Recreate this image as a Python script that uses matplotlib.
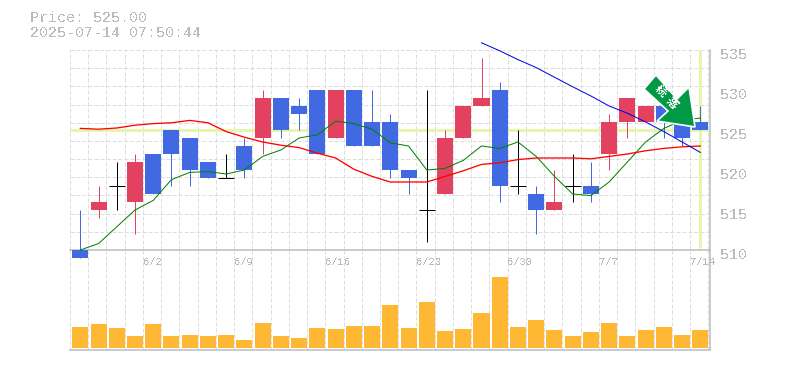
import numpy as np
import matplotlib
matplotlib.use("Agg")
import matplotlib.pyplot as plt
from matplotlib.patches import Polygon
from matplotlib.transforms import ScaledTranslation

plt.rcParams['text.antialiased'] = False

# daily candles, c4 = 6/2
opens  = [510, 515, 518, 516, 522, 525, 524, 521, 519, 523, 524, 529, 528, 530, 524, 530, 526, 526,
          520, 515, 517, 524, 528, 530, 518, 517, 515, 518, 518, 522, 526, 526, 528, 526, 526]
highs  = [515, 518, 521, 522, 522, 525, 524, 521, 522, 524, 530, 529, 529, 530, 530, 530, 530, 527,
          520, 530, 525, 528, 534, 531, 525, 518, 520, 522, 521, 527, 529, 528, 528, 526, 528]
lows   = [509, 514, 515, 512, 517, 518, 518, 519, 519, 519, 522, 524, 525, 522, 524, 523, 523, 519,
          517, 511, 517, 524, 528, 516, 517, 512, 515, 516, 516, 520, 524, 526, 524, 523, 525]
closes = [509, 516, 518, 521, 517, 522, 520, 519, 519, 520, 529, 525, 527, 522, 530, 523, 523, 520,
          519, 515, 524, 528, 529, 518, 518, 515, 516, 518, 517, 526, 529, 528, 526, 524, 525]
ma_short = [510.0, 510.8, 512.9, 515.0, 516.2, 518.8, 519.7, 519.8, 519.5, 520.0, 521.7, 522.5,
            524.0, 524.4, 526.1, 525.8, 525.1, 523.4, 523.0, 520.0, 520.2, 521.2, 523.0, 522.7,
            523.5, 521.7, 519.2, 517.0, 516.8, 518.5, 521.0, 523.5, 525.2, 526.2, 526.5]
ma_mid = [525.2, 525.1, 525.25, 525.6, 525.8, 525.9, 526.2, 525.9, 524.8, 524.1, 523.5, 523.1,
          522.8, 522.1, 521.5, 520.1, 519.2, 518.5, 518.5, 518.5, 519.2, 519.9, 520.7, 520.9,
          521.3, 521.5, 521.5, 521.5, 521.4, 521.7, 522.0, 522.4, 522.7, 522.9, 523.0]
ma_long = [535.9, 534.9, 533.8, 532.8, 531.6, 530.4, 529.25, 528.0, 527.1, 526.0, 524.8, 523.5, 522.2]
volumes = [21, 24, 20, 12, 24, 12, 13, 12, 13, 8, 25, 12, 10, 20, 19, 22, 22, 43,
           20, 46, 17, 19, 35, 71, 21, 28, 18, 12, 16, 25, 12, 18, 21, 13, 18]
date_idx = [4, 9, 14, 19, 24, 29, 34]
date_labels = ['6/2', '6/9', '6/16', '6/23', '6/30', '7/7', '7/14']
price_ticks = [510, 515, 520, 525, 530, 535]
last_price = 525.00

RED, BLUE, BAR = '#e2415f', '#4169e1', '#ffb833'
GRID, AXIS, TXT, HILITE = '#dddddd', '#bbbbbb', '#bbbbbb', '#e6f5ae'
MONO = 'Liberation Mono'
PX = 0.72  # one pixel as a line width in points

W, H = 785, 370
fig = plt.figure(figsize=(W / 100, H / 100), dpi=100)
vax = fig.add_axes([70 / W, 1 - 350 / H, 640 / W, 100 / H])
ax = fig.add_axes([70 / W, 1 - 250 / H, 640 / W, 200 / H], sharex=vax, zorder=2)
ax.patch.set_visible(False)

n = len(closes)
xs = np.arange(n)
grid_x = np.arange(n + 1) - 0.565
px = 1 / 18.235  # one pixel in x data units
dash = (0, (4, 2))

for a in (ax, vax):
    a.set_axisbelow(True)
    a.set_xlim(-0.565, 34.53)
    for s in a.spines.values():
        s.set_visible(False)
    for side in ('bottom', 'right'):
        a.spines[side].set_visible(True)
        a.spines[side].set_color(AXIS)
        a.spines[side].set_linewidth(1.5 * PX)
    a.vlines(grid_x, 0, 1, transform=a.get_xaxis_transform(), color=GRID, lw=PX, linestyle=dash, zorder=0,
             snap=True)

ax.set_ylim(510, 535)
ax.hlines(510 + 25 / 11 * np.arange(1, 12), -0.565, 34.53, color=GRID, lw=PX, linestyle=dash, zorder=0,
          snap=True)
ax.axhline(last_price, color=HILITE, lw=3 * PX, zorder=1)
ax.vlines(xs[-1], 510.3, 535, color=HILITE, lw=3 * PX, zorder=1)

# candles
for i in range(n):
    o, h, l, c = opens[i], highs[i], lows[i], closes[i]
    if c > o:
        col = RED
    elif c < o:
        col = BLUE
    else:
        col = 'black'
    ax.vlines(i, l, h, color=col, lw=PX, zorder=3, clip_on=False, snap=True)
    if c == o:
        ax.hlines(c, i - 8 * px, i + 8 * px, color=col, lw=PX, zorder=3, snap=True)
    else:
        ax.bar(i, abs(c - o), bottom=min(o, c), width=16 * px, color=col, zorder=3, clip_on=False)

ax.plot(xs, ma_short, color='#008000', lw=PX, zorder=4, clip_on=False)
ax.plot(xs, ma_mid, color='#ff0000', lw=1.3 * PX, zorder=4)
ax.plot(xs[-len(ma_long):], ma_long, color='#0000e0', lw=PX, zorder=4, clip_on=False)

ax.yaxis.tick_right()
ax.set_yticks(price_ticks, [str(t) for t in price_ticks])
ax.tick_params(axis='y', length=0, pad=7, labelcolor=TXT, labelsize=10.8)
shift = ScaledTranslation(0, -3 / 100, fig.dpi_scale_trans)
for lab in ax.get_yticklabels():
    lab.set_family(MONO)
    lab.set_transform(lab.get_transform() + shift)
ax.set_xticks(grid_x[date_idx], date_labels)
ax.tick_params(axis='x', length=0, pad=5, labelcolor=TXT, labelsize=7.6, labelbottom=True)
for lab in ax.get_xticklabels():
    lab.set_family(MONO)
    lab.set_ha('left')

# volume, bars sit 2px above the axis line
vax.bar(xs, volumes, bottom=2.2, width=16 * px, color=BAR, zorder=3)
vax.set_ylim(0, 100)
vax.set_yticks([])
vax.tick_params(axis='x', length=0, labelbottom=False)

fig.text(30 / W, 1 - 18 / H, f'Price: {last_price:.2f}', family=MONO, fontsize=10.8, color=TXT, va='center')
fig.text(30 / W, 1 - 33 / H, '2025-07-14 07:50:44', family=MONO, fontsize=10.8, color=TXT, va='center')

# signal arrow, in pixels from the top left corner
arrow_px = [(656, 75), (677, 99), (689, 87), (695, 127), (657, 121), (668, 111), (644, 89)]
fig.add_artist(Polygon([(x / W, 1 - y / H) for x, y in arrow_px], closed=True, transform=fig.transFigure,
                       facecolor='#009944', edgecolor='white', lw=1.2, zorder=10))
fig.text(660.7 / W, 1 - 90.7 / H, '続', family=['Noto Sans CJK JP', 'DejaVu Sans'], fontsize=8, color='white',
         rotation=-45, ha='center', va='center', zorder=11, fontweight='bold')
fig.text(671.7 / W, 1 - 102.3 / H, '落', family=['Noto Sans CJK JP', 'DejaVu Sans'], fontsize=8, color='white',
         rotation=-45, ha='center', va='center', zorder=11, fontweight='bold')

fig.savefig('out.png', dpi=100)
